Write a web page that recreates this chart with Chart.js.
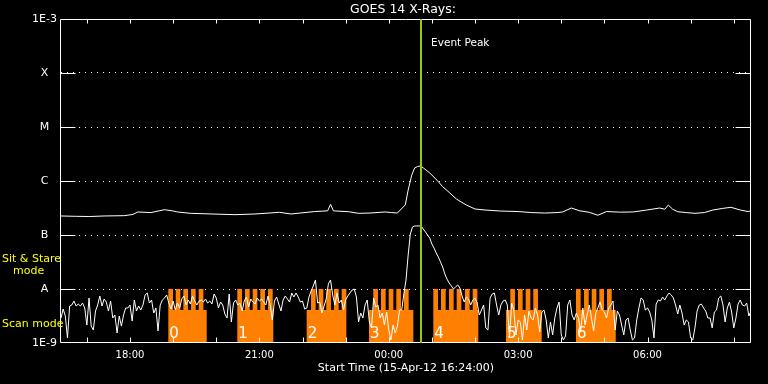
<!DOCTYPE html>
<html><head><meta charset="utf-8">
<script src="https://cdn.jsdelivr.net/npm/chart.js@4/dist/chart.umd.min.js"></script>
<style>html,body{margin:0;padding:0;background:#000;}canvas{display:block;}</style>
</head><body>
<canvas id="c" width="768" height="384"></canvas>
<script>
// ---------- data ----------
const titleText = 'GOES 14 X-Rays:';
const xTitle = 'Start Time (15-Apr-12 16:24:00)';
// x values are minutes after 15-Apr-12 16:24:00
const hourTicks = [36,96,156,216,276,336,396,456,516,576,636,696,756,816,876,936];
const xTickMinutes = [96,276,456,636,816];
const xTickLabels = ['18:00','21:00','00:00','03:00','06:00'];
const yTickValues = [1e-9,1e-8,1e-7,1e-6,1e-5,1e-4,1e-3];
const yTickLabels = ['1E-9','A','B','C','M','X','1E-3'];

// 1-8 A channel
const upperTimes = [0,20,40,60,88,100,107,125,144,155,162,180,210,242,270,304,320,353,371,375,379,400,414,430,451,460,468,472,479,483,488,492,496,500,504,513,523,531,541,550,564,576,590,611,636,655,673,690,698,710,722,735,747,759,778,796,815,833,840,845,851,858,870,882,895,907,920,932,945,956,960];
const upperFlux = [2.25e-7,2.22e-7,2.2e-7,2.25e-7,2.28e-7,2.4e-7,2.67e-7,2.6e-7,2.94e-7,2.8e-7,2.67e-7,2.52e-7,2.45e-7,2.38e-7,2.45e-7,2.63e-7,2.45e-7,2.72e-7,2.8e-7,3.7e-7,2.8e-7,2.7e-7,2.52e-7,2.55e-7,2.67e-7,2.6e-7,2.55e-7,2.9e-7,3.6e-7,6.8e-7,1.29e-6,1.74e-6,1.85e-6,1.9e-6,1.75e-6,1.41e-6,1.04e-6,7.84e-7,6.0e-7,4.64e-7,3.59e-7,3.03e-7,2.9e-7,2.78e-7,2.72e-7,2.6e-7,2.55e-7,2.6e-7,2.67e-7,3.16e-7,2.8e-7,2.63e-7,2.32e-7,2.72e-7,2.65e-7,2.67e-7,2.9e-7,3.16e-7,3.0e-7,3.59e-7,3.0e-7,2.7e-7,2.6e-7,2.52e-7,2.6e-7,2.9e-7,3.1e-7,3.26e-7,2.9e-7,2.72e-7,2.8e-7];

// 0.5-4 A channel, one sample every 3 minutes from the start time
const lowStepMin = 3;
const lowFlux = [
2.9e-9,4.26e-9,3.16e-9,1.24e-9,4.84e-9,5.05e-9,5.99e-9,4.84e-9,5.27e-9,4.84e-9,5.5e-9,4.45e-9,2.15e-9,6.81e-9,2.06e-9,1.74e-9,3.91e-9,5.05e-9,7.42e-9,4.84e-9,6.53e-9,5.74e-9,3.91e-9,5.99e-9,2.9e-9,3.3e-9,1.53e-9,3.16e-9,2.06e-9,3.3e-9,4.45e-9,4.45e-9,5.05e-9,2.55e-9,6.26e-9,3.91e-9,4.84e-9,4.08e-9,5.05e-9,7.74e-9,8.43e-9,5.5e-9,6.26e-9,3.59e-9,4.45e-9,1.67e-9,5.05e-9,6.26e-9,6.81e-9,7.74e-9,5.5e-9,4.26e-9,5.99e-9,4.08e-9,5.5e-9,4.45e-9,6.53e-9,7.42e-9,5.05e-9,6.26e-9,5.27e-9,7.42e-9,5.99e-9,5.05e-9,
5.99e-9,6.26e-9,5.74e-9,6.53e-9,5.5e-9,5.99e-9,5.27e-9,8.08e-9,6.81e-9,4.45e-9,5.74e-9,5.05e-9,3.44e-9,2.9e-9,8.08e-9,2.45e-9,5.5e-9,6.26e-9,5.05e-9,5.5e-9,3.91e-9,5.99e-9,7.11e-9,4.64e-9,6.53e-9,5.74e-9,5.27e-9,6.81e-9,5.99e-9,6.53e-9,5.74e-9,5.05e-9,7.42e-9,5.05e-9,2.67e-9,5.99e-9,7.11e-9,5.27e-9,3.91e-9,6.26e-9,7.42e-9,6.53e-9,5.74e-9,8.43e-9,7.11e-9,8.43e-9,7.11e-9,5.74e-9,5.99e-9,4.26e-9,4.45e-9,7.11e-9,9.18e-9,1.14e-8,1.47e-8,5.5e-9,5.74e-9,3.59e-9,4.84e-9,6.53e-9,1.24e-8,1.47e-8,7.74e-9,5.05e-9,
8.43e-9,5.5e-9,6.26e-9,4.08e-9,6.26e-9,7.42e-9,8.43e-9,9.58e-9,1.0e-8,7.11e-9,2.45e-9,3.59e-9,2.9e-9,5.05e-9,6.26e-9,2.45e-9,1.9e-9,6.81e-9,4.64e-9,5.05e-9,2.9e-9,3.59e-9,2.15e-9,3.75e-9,1.74e-9,1.14e-9,2.15e-9,1.53e-9,2.06e-9,4.08e-9,4.08e-9,8.08e-9,1.47e-8,4.26e-8,1.04e-7,1.41e-7,1.47e-7,1.47e-7,1.47e-7,1.47e-7,1.29e-7,1.14e-7,1.0e-7,8.8e-8,6.81e-8,5.74e-8,4.64e-8,3.91e-8,3.16e-8,2.55e-8,1.9e-8,1.53e-8,1.29e-8,1.14e-8,1.0e-8,1.09e-8,1.19e-8,1.04e-8,7.42e-9,5.74e-9,7.11e-9,6.53e-9,5.05e-9,6.26e-9,
6.81e-9,5.5e-9,3.3e-9,4.08e-9,5.05e-9,1.9e-9,1.74e-9,6.81e-9,8.08e-9,8.43e-9,5.05e-9,3.3e-9,5.05e-9,5.99e-9,6.26e-9,5.05e-9,1.24e-9,5.5e-9,4.08e-9,1.41e-9,2.67e-9,2.45e-9,1.14e-9,3.3e-9,1.74e-9,3.91e-9,2.9e-9,2.67e-9,4.45e-9,3.3e-9,1.6e-9,3.75e-9,4.08e-9,2.67e-9,1.24e-9,2.45e-9,1.41e-9,2.9e-9,4.45e-9,5.74e-9,1.41e-9,1.14e-9,1.35e-9,5.05e-9,6.26e-9,3.3e-9,2.67e-9,3.59e-9,2.9e-9,1.6e-9,4.45e-9,2.15e-9,3.3e-9,5.05e-9,2.9e-9,1.67e-9,3.59e-9,4.45e-9,5.74e-9,4.08e-9,3.75e-9,2.9e-9,4.45e-9,5.05e-9,
5.99e-9,1.74e-9,3.91e-9,3.3e-9,2.15e-9,1.41e-9,2.67e-9,2.9e-9,1.74e-9,1.14e-9,1.24e-9,2.67e-9,4.45e-9,6.81e-9,6.26e-9,4.08e-9,4.45e-9,3.75e-9,2.67e-9,1.24e-9,5.27e-9,6.26e-9,5.99e-9,7.11e-9,6.26e-9,7.42e-9,8.43e-9,7.74e-9,6.81e-9,5.05e-9,3.44e-9,5.05e-9,3.59e-9,2.15e-9,2.67e-9,2.45e-9,1.24e-9,1.14e-9,1.9e-9,3.91e-9,5.05e-9,5.27e-9,4.45e-9,3.91e-9,2.9e-9,2.9e-9,1.9e-9,3.75e-9,4.08e-9,6.81e-9,7.42e-9,5.05e-9,2.45e-9,4.45e-9,5.74e-9,3.75e-9,1.9e-9,2.9e-9,5.27e-9,6.26e-9,5.05e-9,4.84e-9,5.5e-9,3.16e-9,3.91e-9
];

const eventPeakMin = 501;
const eventLabel = 'Event Peak';

// observing-mode blocks (minutes)
const blockNames = ['0','1','2','3','4','5','6'];
const blockStart = [149.3,245.3,341.8,428.5,518.0,619.1,716.5];
const blockEnd   = [202.7,295.4,397.0,490.2,580.6,668.8,771.8];
const stareStarts = [
  [149.3,159.6,170.2,180.9,191.6],
  [245.3,256.0,266.7,277.3,288.0],
  [347.8,358.5,369.1,379.8,390.5],
  [434.5,445.2,455.9,466.5,477.2],
  [518.0,528.7,539.8,550.5,562.0,572.8],
  [625.1,635.8,646.5,657.1],
  [716.5,727.7,738.4,749.0,759.7]
];
const stareLength = 6.5;
const modeTexts = ['Sit & Stare', 'mode', 'Scan mode'];

// ---------- build ----------
const MODE_Y = {off: 1e-9, scan: 4.1e-9, stare: 1e-8};
const modePts = [{x: 0, y: MODE_Y.off}];
blockStart.forEach((s, i) => {
  modePts.push({x: s, y: MODE_Y.scan});
  stareStarts[i].forEach(t => {
    modePts.push({x: t, y: MODE_Y.stare});
    modePts.push({x: t + stareLength, y: MODE_Y.scan});
  });
  modePts.push({x: blockEnd[i], y: MODE_Y.off});
});
modePts.push({x: 960, y: MODE_Y.off});

const upperPts = upperTimes.map((t, i) => ({x: t, y: upperFlux[i]}));
const lowPts = lowFlux.map((v, i) => ({x: i * lowStepMin, y: v}));

const FONT = '"DejaVu Sans", sans-serif';
Chart.defaults.font.family = FONT;
Chart.defaults.color = '#fff';

const decor = {
  id: 'decor',
  afterDatasetDraw(chart, args) {
    if (args.index !== 2) return;
    const {ctx, scales: {x, y}} = chart;
    ctx.save();
    ctx.fillStyle = '#fff';
    ctx.font = '15px ' + FONT;
    ctx.textBaseline = 'alphabetic';
    ctx.textAlign = 'left';
    blockNames.forEach((n, i) => ctx.fillText(n, x.getPixelForValue(blockStart[i]) + 1, y.bottom - 5));
    ctx.restore();
  },
  afterDraw(chart) {
    const {ctx, chartArea: a, scales: {x, y}} = chart;
    ctx.save();
    ctx.strokeStyle = '#fff';
    ctx.lineWidth = 1;
    const L = Math.round(a.left) - 0.5, R = Math.round(a.right) - 0.5;
    const T = Math.round(a.top) + 0.5, B = Math.round(a.bottom) - 0.5;
    ctx.beginPath();
    ctx.rect(L, T, R - L, B - T);
    // hourly inward ticks
    hourTicks.forEach(m => {
      const px = Math.round(x.getPixelForValue(m)) + 0.5;
      ctx.moveTo(px, T); ctx.lineTo(px, T + 4);
      ctx.moveTo(px, B); ctx.lineTo(px, B - 5);
    });
    // level ticks
    yTickValues.slice(1, -1).forEach(v => {
      const py = Math.round(y.getPixelForValue(v)) + 0.5;
      ctx.moveTo(L, py); ctx.lineTo(L + 15, py);
      ctx.moveTo(R, py); ctx.lineTo(R - 15, py);
    });
    ctx.stroke();
    // event peak
    const ex = x.getPixelForValue(eventPeakMin);
    ctx.fillStyle = '#99cc00';
    ctx.fillRect(Math.round(ex) - 1, a.top, 2, a.bottom - a.top);
    ctx.fillStyle = '#fff';
    ctx.font = '10.5px ' + FONT;
    ctx.textBaseline = 'middle';
    ctx.textAlign = 'left';
    ctx.fillText(eventLabel, ex + 10, 43);
    // title
    ctx.font = '12.5px ' + FONT;
    ctx.textAlign = 'center';
    ctx.fillText(titleText, (a.left + a.right) / 2 - 3, 10);
    // mode labels
    ctx.fillStyle = '#ffff00';
    ctx.font = '11px ' + FONT;
    ctx.textAlign = 'left';
    ctx.fillText(modeTexts[0], 2, 259);
    ctx.fillText(modeTexts[1], 13, 271);
    ctx.fillText(modeTexts[2], 2, 324);
    ctx.restore();
  }
};

new Chart(document.getElementById('c'), {
  type: 'line',
  data: {
    datasets: [
      {data: upperPts, borderColor: '#fff', borderWidth: 1, pointRadius: 0, tension: 0, fill: false},
      {data: lowPts, borderColor: '#fff', borderWidth: 1, pointRadius: 0, tension: 0, fill: false},
      {data: modePts, borderWidth: 0, borderColor: 'rgba(0,0,0,0)', backgroundColor: '#ff8000', pointRadius: 0, stepped: 'before', fill: 'start'}
    ]
  },
  options: {
    responsive: false,
    animation: false,
    layout: {padding: {top: 19, right: 17, bottom: 0, left: 0}},
    plugins: {legend: {display: false}, tooltip: {enabled: false}, title: {display: false}},
    scales: {
      x: {
        type: 'linear', min: 0, max: 960,
        afterBuildTicks: s => { s.ticks = hourTicks.map(v => ({value: v})); },
        afterFit: s => { s.height = 41; },
        ticks: {
          autoSkip: false, maxRotation: 0, padding: 6, color: '#fff',
          font: {size: 10},
          callback: v => { const i = xTickMinutes.indexOf(v); return i >= 0 ? xTickLabels[i] : ''; }
        },
        grid: {display: false, drawTicks: false},
        border: {display: false},
        title: {display: true, text: xTitle, color: '#fff', font: {size: 11}, padding: {top: 0, bottom: 9}}
      },
      y: {
        type: 'logarithmic', min: 1e-9, max: 1e-3,
        afterBuildTicks: s => { s.ticks = yTickValues.map(v => ({value: v})); },
        afterFit: s => { s.width = 61; },
        ticks: {
          crossAlign: 'center', padding: 4, color: '#fff', font: {size: 11},
          callback: (v, i) => yTickLabels[i]
        },
        grid: {
          drawTicks: false, lineWidth: 1, borderDash: [1, 5],
          color: c => (c.index === 0 || c.index === yTickValues.length - 1) ? 'rgba(0,0,0,0)' : '#fff'
        },
        border: {display: false, dash: [1, 5]}
      }
    }
  },
  plugins: [decor]
});
</script>
</body></html>
